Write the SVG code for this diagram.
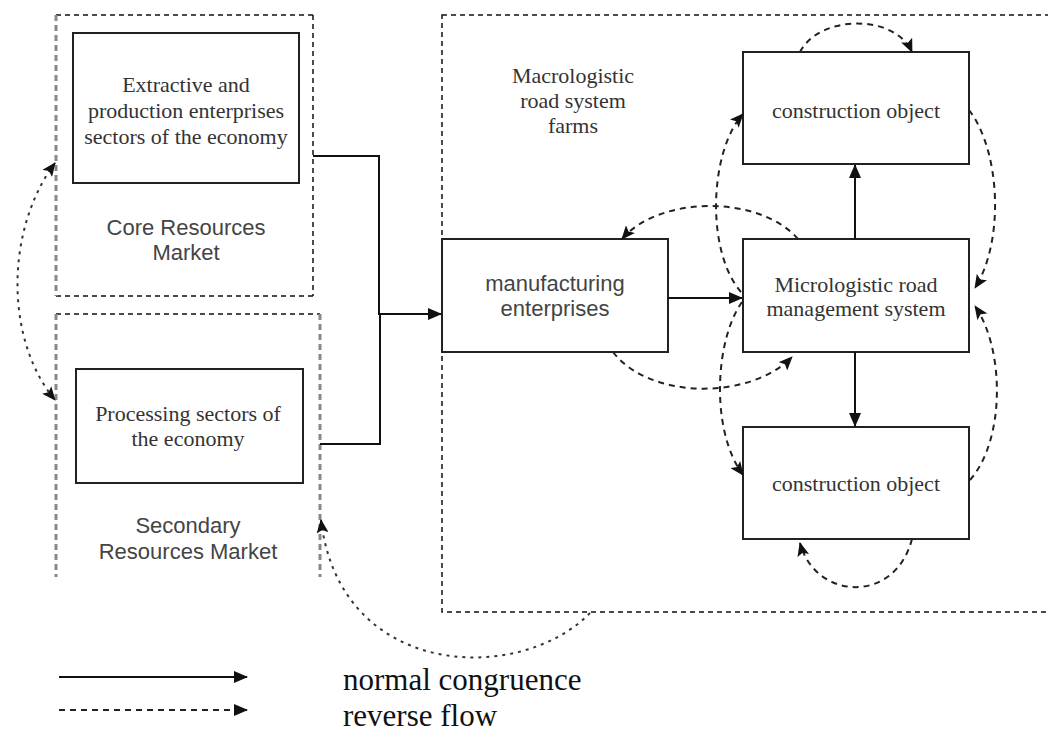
<svg xmlns="http://www.w3.org/2000/svg" width="1048" height="733" viewBox="0 0 1048 733">
<defs>
<style>
.box{fill:#fff;stroke:#222;stroke-width:2}
.serif{font-family:"Liberation Serif","Times New Roman",serif;font-size:22px;fill:#333;text-anchor:middle}
.sans{font-family:"Liberation Sans",Arial,sans-serif;font-size:22px;fill:#444;text-anchor:middle}
.legend{font-family:"Liberation Serif","Times New Roman",serif;font-size:31px;fill:#111}
.solid{fill:none;stroke:#111;stroke-width:2}
.dash{fill:none;stroke:#222;stroke-width:2;stroke-dasharray:6,5}
.dot{fill:none;stroke:#333;stroke-width:2;stroke-dasharray:3,5}
.frameB{fill:none;stroke:#111;stroke-width:1.5;stroke-dasharray:5,4}
.frameG{fill:none;stroke:#888;stroke-width:3;stroke-dasharray:6,4}
</style>
<marker id="ah" viewBox="0 0 14 12" refX="13" refY="6" markerWidth="14" markerHeight="12" markerUnits="userSpaceOnUse" orient="auto-start-reverse">
<path d="M0,0 L14,6 L0,12 z" fill="#111"/>
</marker>
<marker id="ahd" viewBox="0 0 14 12" refX="13" refY="6" markerWidth="14" markerHeight="12" markerUnits="userSpaceOnUse" orient="auto-start-reverse">
<path d="M0,0 L14,6 L0,12 L3,6 z" fill="#111"/>
</marker>
</defs>
<rect width="1048" height="733" fill="#fff"/>

<g id="core-market">
<line x1="56" y1="15" x2="313" y2="15" class="frameB"/>
<line x1="313" y1="15" x2="313" y2="296" class="frameB"/>
<line x1="56" y1="296" x2="313" y2="296" class="frameB"/>
<line x1="56" y1="15" x2="56" y2="296" class="frameG"/>
<text x="186" y="235" class="sans">Core Resources</text>
<text x="186" y="260" class="sans">Market</text>
</g>

<g id="secondary-market">
<line x1="56" y1="314" x2="320" y2="314" class="frameB" stroke-width="1"/>
<line x1="56" y1="314" x2="56" y2="577" class="frameG"/>
<line x1="320" y1="314" x2="320" y2="577" class="frameG"/>
<text x="188" y="533" class="sans">Secondary</text>
<text x="188" y="559" class="sans">Resources Market</text>
</g>

<g id="macro-system">
<rect x="442" y="15" width="620" height="597" class="frameB"/>
<text x="573" y="83" class="serif">Macrologistic</text>
<text x="573" y="108" class="serif">road system</text>
<text x="573" y="133" class="serif">farms</text>
</g>

<g id="extractive">
<rect x="73" y="33" width="226" height="150" class="box"/>
<text x="186" y="92" class="serif">Extractive and</text>
<text x="186" y="118" class="serif">production enterprises</text>
<text x="186" y="144" class="serif">sectors of the economy</text>
</g>

<g id="processing">
<rect x="76" y="369" width="227" height="114" class="box"/>
<text x="188" y="421" class="serif">Processing sectors of</text>
<text x="188" y="446" class="serif">the economy</text>
</g>

<g id="manufacturing">
<rect x="442" y="239" width="226" height="113" class="box"/>
<text x="555" y="291" class="sans">manufacturing</text>
<text x="555" y="316" class="sans">enterprises</text>
</g>

<g id="micrologistic">
<rect x="743" y="239" width="226" height="113" class="box"/>
<text x="856" y="292" class="serif">Micrologistic road</text>
<text x="856" y="316" class="serif">management system</text>
</g>

<g id="construction-top">
<rect x="743" y="52" width="226" height="112" class="box"/>
<text x="856" y="118" class="serif">construction object</text>
</g>

<g id="construction-bottom">
<rect x="743" y="427" width="226" height="112" class="box"/>
<text x="856" y="491" class="serif">construction object</text>
</g>

<g id="connectors">
<path d="M313,156 H379 V314 H441" class="solid" marker-end="url(#ah)"/>
<path d="M320,444 H380 V314" class="solid"/>
<path d="M668,298 H742" class="solid" marker-end="url(#ah)"/>
<path d="M855,239 V165" class="solid" marker-end="url(#ah)"/>
<path d="M855,352 V426" class="solid" marker-end="url(#ah)"/>

<path d="M800,52 C820,14 895,14 912,52" class="dash" marker-end="url(#ahd)"/>
<path d="M741,292 C705,250 710,150 743,114" class="dash" marker-end="url(#ahd)"/>
<path d="M742,302 C715,340 710,430 743,475" class="dash" marker-end="url(#ahd)"/>
<path d="M798,239 C760,195 660,195 622,239" class="dash" marker-end="url(#ahd)"/>
<path d="M613,352 C650,400 750,400 792,357" class="dash" marker-end="url(#ahd)"/>
<path d="M969,110 C1000,150 1005,240 975,288" class="dash" marker-end="url(#ahd)"/>
<path d="M970,480 C1005,440 1005,350 975,306" class="dash" marker-end="url(#ahd)"/>
<path d="M912,539 C895,605 815,600 800,543" class="dash" marker-end="url(#ahd)"/>
<path d="M590,613 C520,685 340,680 321,520" class="dot" marker-end="url(#ahd)"/>
<path d="M55,163 C5,230 5,340 55,400" class="dot" marker-start="url(#ahd)" marker-end="url(#ahd)"/>
</g>

<g id="legend">
<path d="M59,677 H247" class="solid" stroke-width="2.5" marker-end="url(#ah)"/>
<path d="M59,710 H247" class="dash" stroke-width="2.5" stroke-dasharray="9,6" marker-end="url(#ah)"/>
<text x="343" y="690" class="legend">normal congruence</text>
<text x="343" y="726" class="legend">reverse flow</text>
</g>
</svg>
